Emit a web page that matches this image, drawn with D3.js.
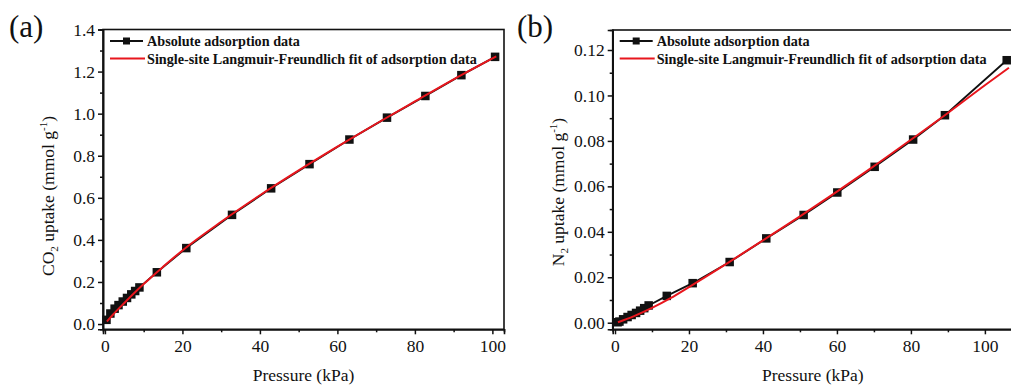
<!DOCTYPE html>
<html>
<head>
<meta charset="utf-8">
<script src="https://cdn.jsdelivr.net/npm/d3@7"></script>
<style>
  html, body { margin: 0; padding: 0; background: #fff; }
  svg { display: block; }
  text { font-family: "Liberation Serif", "Times New Roman", serif; fill: #111; }
</style>
</head>
<body>
<svg id="chart" width="1011" height="385"></svg>
<script>
// ---------- Data ----------
// Panel (a): CO2
const co2Pressure = [0.4, 1.4, 2.5, 3.5, 4.6, 5.7, 6.8, 7.8, 8.9, 13.4, 21.0, 32.8, 42.9, 52.8, 63.1, 72.8, 82.7, 92.0, 100.7];
const co2Uptake   = [0.02, 0.05, 0.073, 0.09, 0.107, 0.124, 0.141, 0.157, 0.174, 0.246, 0.361, 0.519, 0.645, 0.760, 0.877, 0.981, 1.084, 1.183, 1.270];
const co2FitPressure = [0.5, 2, 5, 10, 15, 20, 30, 40, 50, 60, 70, 80, 90, 101];
const co2FitUptake   = [0.012, 0.043, 0.100, 0.190, 0.272, 0.350, 0.486, 0.612, 0.730, 0.843, 0.952, 1.058, 1.163, 1.272];

// Panel (b): N2
const n2Pressure = [0.7, 1.2, 2.2, 3.4, 4.5, 5.7, 6.8, 7.9, 9.1, 14.0, 21.0, 31.0, 40.9, 51.0, 60.1, 70.2, 80.6, 89.2, 105.9];
const n2Uptake   = [0.0002, 0.0005, 0.0015, 0.0025, 0.0034, 0.0043, 0.0053, 0.0064, 0.0076, 0.0118, 0.0174, 0.0267, 0.0371, 0.0474, 0.0573, 0.0686, 0.0806, 0.0913, 0.1155];
const n2FitPressure = [0.8, 5, 10, 15, 20, 30, 40, 50, 60, 70, 80, 90, 100, 106.5];
const n2FitUptake   = [0.0002, 0.0028, 0.0065, 0.0108, 0.0157, 0.0258, 0.0362, 0.0468, 0.0577, 0.0689, 0.0805, 0.0923, 0.1045, 0.1122];

// Tick values
const xTicks = [0, 20, 40, 60, 80, 100];
const xMinorTicks = [10, 30, 50, 70, 90];
const co2YTicks = [0.0, 0.2, 0.4, 0.6, 0.8, 1.0, 1.2, 1.4];
const co2YMinor = [0.1, 0.3, 0.5, 0.7, 0.9, 1.1, 1.3];
const n2YTicks = [0.00, 0.02, 0.04, 0.06, 0.08, 0.10, 0.12];
const n2YMinor = [0.01, 0.03, 0.05, 0.07, 0.09, 0.11];

const legendLabels = ["Absolute adsorption data", "Single-site Langmuir-Freundlich fit of adsorption data"];
const xTitle = "Pressure (kPa)";

const RED = "#e8161d";
const FONT = "Liberation Serif, Times New Roman, serif";
const svg = d3.select("#chart");

function drawPanel(cfg) {
  const g = svg.append("g");
  const x = d3.scaleLinear().domain(cfg.xDomain).range([cfg.left, cfg.right]);
  const y = d3.scaleLinear().domain(cfg.yDomain).range([cfg.bottom, cfg.top]);

  // frame
  g.append("rect")
    .attr("x", cfg.left).attr("y", cfg.top)
    .attr("width", cfg.right - cfg.left).attr("height", cfg.bottom - cfg.top)
    .attr("fill", "none").attr("stroke", "#111").attr("stroke-width", 1.6);

  // axes
  const xAxis = g.append("g").attr("transform", `translate(0,${cfg.bottom})`)
    .call(d3.axisBottom(x).tickValues(xTicks).tickFormat(d3.format("d")).tickSize(5).tickPadding(5));
  const xMinor = g.append("g").attr("transform", `translate(0,${cfg.bottom})`)
    .call(d3.axisBottom(x).tickValues(xMinorTicks).tickFormat("").tickSize(3));
  const yAxis = g.append("g").attr("transform", `translate(${cfg.left},0)`)
    .call(d3.axisLeft(y).tickValues(cfg.yTicks).tickFormat(d3.format(cfg.yFmt)).tickSize(5).tickPadding(3));
  const yMinor = g.append("g").attr("transform", `translate(${cfg.left},0)`)
    .call(d3.axisLeft(y).tickValues(cfg.yMinor).tickFormat("").tickSize(3));
  [xAxis, xMinor, yAxis, yMinor].forEach(a => {
    a.attr("font-family", FONT);
    a.select(".domain").attr("stroke", "#111").attr("stroke-width", 1.6);
    a.selectAll(".tick line").attr("stroke", "#111").attr("stroke-width", 1.5);
    a.selectAll(".tick text").attr("font-size", 17.5).attr("fill", "#222");
  });

  // data line + markers
  const dataPts = cfg.px.map((p, i) => [p, cfg.py[i]]);
  const fitPts = cfg.fx.map((p, i) => [p, cfg.fy[i]]);
  const line = d3.line().x(d => x(d[0])).y(d => y(d[1]));
  g.append("path").datum(dataPts).attr("d", line)
    .attr("fill", "none").attr("stroke", "#111").attr("stroke-width", 1.8);
  const ms = 8.5;
  g.append("g").selectAll("rect").data(dataPts).join("rect")
    .attr("x", d => x(d[0]) - ms / 2).attr("y", d => y(d[1]) - ms / 2)
    .attr("width", ms).attr("height", ms).attr("fill", "#111");
  g.append("path").datum(fitPts).attr("d", line.curve(d3.curveMonotoneX))
    .attr("fill", "none").attr("stroke", RED).attr("stroke-width", 2);

  // legend
  const lx0 = cfg.left + 7, lx1 = cfg.left + 40, ly0 = 41, ly1 = 58.5;
  g.append("line").attr("x1", lx0).attr("x2", lx1).attr("y1", ly0).attr("y2", ly0)
    .attr("stroke", "#111").attr("stroke-width", 1.8);
  g.append("rect").attr("x", (lx0 + lx1) / 2 - 3.5).attr("y", ly0 - 3.5).attr("width", 7).attr("height", 7).attr("fill", "#111");
  g.append("line").attr("x1", lx0).attr("x2", lx1 + 2).attr("y1", ly1).attr("y2", ly1)
    .attr("stroke", RED).attr("stroke-width", 2);
  g.append("text").attr("x", lx1 + 4).attr("y", ly0 + 5).attr("font-size", 14.2).attr("font-weight", "bold").text(legendLabels[0]);
  g.append("text").attr("x", lx1 + 4).attr("y", ly1 + 5).attr("font-size", 14.2).attr("font-weight", "bold").text(legendLabels[1]);

  // x title
  g.append("text").attr("x", (cfg.left + cfg.right) / 2).attr("y", 381)
    .attr("text-anchor", "middle").attr("font-size", 17.5).attr("fill", "#222").text(xTitle);

  // y title
  const yt = g.append("text").attr("transform", `translate(${cfg.yTitleX},${cfg.yTitleY}) rotate(-90)`)
    .attr("text-anchor", "middle").attr("font-size", 17.5).attr("fill", "#222");
  yt.append("tspan").text(cfg.gas);
  yt.append("tspan").attr("font-size", 11).attr("dy", 4).text("2");
  yt.append("tspan").attr("dy", -4).text(" uptake (mmol g");
  yt.append("tspan").attr("font-size", 11).attr("dy", -7).text("-1");
  yt.append("tspan").attr("dy", 7).text(")");

  // panel label
  svg.append("text").attr("x", cfg.labelX).attr("y", 37).attr("font-size", 31).attr("fill", "#111").text(cfg.label);
}

drawPanel({
  left: 103, right: 504, top: 29.5, bottom: 329.3,
  xDomain: [-0.5, 103], yDomain: [-0.025, 1.4],
  yTicks: co2YTicks, yMinor: co2YMinor, yFmt: ".1f",
  px: co2Pressure, py: co2Uptake, fx: co2FitPressure, fy: co2FitUptake,
  gas: "CO", yTitleX: 54, yTitleY: 196, label: "(a)", labelX: 9
});
drawPanel({
  left: 612.7, right: 1013, top: 30, bottom: 329.3,
  xDomain: [-0.62, 107.6], yDomain: [-0.0029, 0.1288],
  yTicks: n2YTicks, yMinor: n2YMinor, yFmt: ".2f",
  px: n2Pressure, py: n2Uptake, fx: n2FitPressure, fy: n2FitUptake,
  gas: "N", yTitleX: 564, yTitleY: 192, label: "(b)", labelX: 517
});
</script>
</body>
</html>
